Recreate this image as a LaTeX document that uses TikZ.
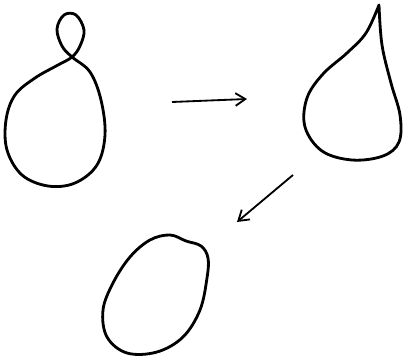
\documentclass[tikz,border=0pt]{standalone}
\usetikzlibrary{arrows.meta}
\begin{document}
\begin{tikzpicture}[x=0.025cm, y=-0.025cm,
  curve/.style={line width=2pt, line cap=round, line join=round},
  move/.style={line width=1.3pt, -{Straight Barb[length=7pt, width=9pt, line width=1.3pt]}}]
  \useasboundingbox (0,0) rectangle (404,360);

  % Curve with a small loop
  \draw[curve] plot[smooth cycle, tension=0.6] coordinates {
    (72,57) (80,46) (84,30) (76,15) (64,15) (57,29) (62,46) (72,57)
    (90,72) (101,100) (105,135) (97,165) (75,183) (48,186) (22,175)
    (7,150) (6,120) (15,95) (35,78) (58,65)};

  % Teardrop with a cusp
  \draw[curve] plot[smooth, tension=0.6] coordinates {
    (379,5) (382,45) (391,83) (400,115) (399,142) (383,156) (352,160)
    (322,151) (305,127) (307,98) (323,74) (347,53) (366,33) (379,5)};

  % Oval
  \draw[curve] plot[smooth cycle, tension=0.6] coordinates {
    (170,235) (186,241) (201,246) (208,258) (207,278) (200,310)
    (183,337) (157,352) (127,353) (107,337) (103,310) (113,283)
    (130,257) (150,240)};

  % Connectors
  \coordinate (firstFrom) at (172,102);
  \coordinate (firstTo) at (247,99);
  \coordinate (secondFrom) at (293,175);
  \coordinate (secondTo) at (237,222);
  \draw[move] (firstFrom) -- (firstTo);
  \draw[move] (secondFrom) -- (secondTo);
\end{tikzpicture}
\end{document}
